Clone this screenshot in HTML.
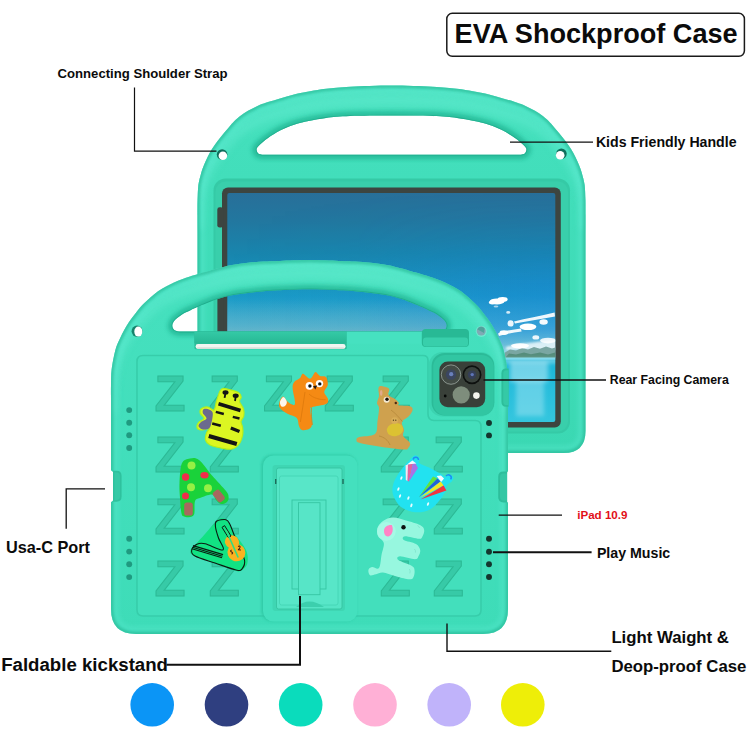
<!DOCTYPE html>
<html lang="en">
<head>
<meta charset="utf-8">
<title>EVA Shockproof Case</title>
<style>
  html, body { margin: 0; padding: 0; background: #ffffff; }
  body { width: 750px; height: 750px; overflow: hidden; position: relative; }
  svg { position: absolute; left: 0; top: 0; display: block; }
  text { font-family: "Liberation Sans", sans-serif; font-weight: bold; fill: #0b0b0b; }
  .z text { fill: #37caa7; stroke: #2cb995; stroke-width: 1; font-size: 50.8px; }
  .ln { stroke: #111; fill: none; }
</style>
</head>
<body>
<svg width="750" height="750" viewBox="0 0 750 750">
  <defs>
    <linearGradient id="sky" x1="0" y1="0" x2="0" y2="1">
      <stop offset="0" stop-color="#286f99"/>
      <stop offset="0.12" stop-color="#22779f"/>
      <stop offset="0.27" stop-color="#1886ae"/>
      <stop offset="0.45" stop-color="#1a9ac6"/>
      <stop offset="0.58" stop-color="#3fb0d4"/>
      <stop offset="0.66" stop-color="#70c3da"/>
      <stop offset="0.712" stop-color="#a9dce8"/>
      <stop offset="0.72" stop-color="#17b2d6"/>
      <stop offset="0.86" stop-color="#28bedc"/>
      <stop offset="1" stop-color="#34c6de"/>
    </linearGradient>
    <linearGradient id="skyx" x1="0" y1="0" x2="1" y2="0">
      <stop offset="0" stop-color="#1878e0" stop-opacity="0"/>
      <stop offset="0.4" stop-color="#1878e0" stop-opacity="0.04"/>
      <stop offset="0.8" stop-color="#1878e0" stop-opacity="0.26"/>
      <stop offset="1" stop-color="#1878e0" stop-opacity="0.3"/>
    </linearGradient>
    <linearGradient id="skyfade" x1="0" y1="0" x2="0" y2="1">
      <stop offset="0" stop-color="#fff" stop-opacity="0"/>
      <stop offset="0.2" stop-color="#fff" stop-opacity="0.25"/>
      <stop offset="0.4" stop-color="#fff" stop-opacity="1"/>
      <stop offset="0.6" stop-color="#fff" stop-opacity="1"/>
      <stop offset="0.7" stop-color="#fff" stop-opacity="0"/>
    </linearGradient>
    <mask id="skymask"><rect x="227" y="193" width="330" height="229" fill="url(#skyfade)"/></mask>
    <linearGradient id="bodyB" x1="0" y1="0" x2="0" y2="1">
      <stop offset="0" stop-color="#4fe3c2"/>
      <stop offset="0.15" stop-color="#43dfbc"/>
      <stop offset="1" stop-color="#3bd8b3"/>
    </linearGradient>
    <linearGradient id="bodyF" x1="0" y1="0" x2="0" y2="1">
      <stop offset="0" stop-color="#55e6c6"/>
      <stop offset="0.12" stop-color="#45e0be"/>
      <stop offset="1" stop-color="#3edcb8"/>
    </linearGradient>
    <clipPath id="scr"><rect x="227.3" y="193" width="328" height="229" rx="2"/></clipPath>
    <path id="backBody" fill-rule="evenodd" clip-rule="evenodd" d="M197.5,215.0 C197.5,212.5 197.4,205.0 197.6,200.0 C197.8,195.0 197.8,189.5 198.4,185.0 C199.0,180.5 200.3,176.3 201.2,173.0 C202.1,169.7 202.9,167.7 204.0,165.0 C205.1,162.3 206.3,159.7 207.6,157.0 C208.9,154.3 210.3,151.7 212.0,149.0 C213.7,146.3 215.6,143.7 217.6,141.0 C219.6,138.3 221.9,135.6 224.0,133.0 C226.1,130.4 228.4,127.7 230.4,125.4 C232.4,123.1 233.7,121.4 236.0,119.4 C238.3,117.4 241.3,115.0 244.0,113.2 C246.7,111.4 249.3,110.2 252.0,108.8 C254.7,107.4 257.3,105.9 260.0,104.8 C262.7,103.7 264.7,103.1 268.0,102.0 C271.3,100.9 275.7,99.7 280.0,98.4 C284.3,97.1 289.0,95.6 294.0,94.4 C299.0,93.2 304.7,92.1 310.0,91.2 C315.3,90.3 319.3,89.5 326.0,88.8 C332.7,88.0 339.1,87.2 350.0,86.7 C360.9,86.2 377.7,85.5 391.5,85.5 C405.3,85.5 422.1,86.2 433.0,86.7 C443.9,87.2 450.3,88.0 457.0,88.8 C463.7,89.5 467.7,90.3 473.0,91.2 C478.3,92.1 484.0,93.2 489.0,94.4 C494.0,95.6 498.7,97.1 503.0,98.4 C507.3,99.7 511.7,100.9 515.0,102.0 C518.3,103.1 520.3,103.7 523.0,104.8 C525.7,105.9 528.3,107.4 531.0,108.8 C533.7,110.2 536.3,111.4 539.0,113.2 C541.7,115.0 544.7,117.4 547.0,119.4 C549.3,121.4 550.6,123.1 552.6,125.4 C554.6,127.7 556.9,130.4 559.0,133.0 C561.1,135.6 563.4,138.3 565.4,141.0 C567.4,143.7 569.3,146.3 571.0,149.0 C572.7,151.7 574.1,154.3 575.4,157.0 C576.7,159.7 577.9,162.3 579.0,165.0 C580.1,167.7 580.9,169.7 581.8,173.0 C582.7,176.3 584.0,180.5 584.6,185.0 C585.2,189.5 585.2,195.0 585.4,200.0 C585.5,205.0 585.5,212.5 585.5,215.0 L585.5,431 Q585.5,453 563.5,453 L219.5,453 Q197.5,453 197.5,431 Z M262.0,154.8 C261.3,154.5 258.9,154.2 258.0,153.2 C257.1,152.2 256.4,150.4 256.6,149.0 C256.9,147.6 257.6,146.8 259.5,145.0 C261.4,143.2 264.6,140.4 268.0,138.0 C271.4,135.6 275.7,132.8 280.0,130.6 C284.3,128.4 289.0,126.4 294.0,124.8 C299.0,123.2 304.7,121.9 310.0,120.8 C315.3,119.7 319.3,118.7 326.0,117.9 C332.7,117.1 339.1,116.4 350.0,116.0 C360.9,115.6 377.7,115.5 391.5,115.5 C405.3,115.5 422.1,115.6 433.0,116.0 C443.9,116.4 450.3,117.1 457.0,117.9 C463.7,118.7 467.7,119.7 473.0,120.8 C478.3,121.9 484.0,123.2 489.0,124.8 C494.0,126.4 498.7,128.4 503.0,130.6 C507.3,132.8 511.6,135.6 515.0,138.0 C518.4,140.4 521.6,143.2 523.5,145.0 C525.4,146.8 526.1,147.6 526.4,149.0 C526.6,150.4 525.9,152.2 525.0,153.2 C524.1,154.2 521.7,154.5 521.0,154.8 Z"/>
    <path id="frontBody" fill-rule="evenodd" clip-rule="evenodd" d="M111.0,400.0 C111.0,397.5 110.9,390.0 111.0,385.0 C111.1,380.0 110.9,375.8 111.6,370.0 C112.3,364.2 114.0,355.3 115.4,350.0 C116.8,344.7 118.7,341.3 120.2,338.0 C121.7,334.7 122.7,332.7 124.2,330.0 C125.7,327.3 127.2,324.7 129.0,322.0 C130.8,319.3 132.9,316.7 135.0,314.0 C137.1,311.3 138.9,308.7 141.4,306.0 C143.9,303.3 147.0,300.5 149.8,298.0 C152.6,295.5 155.3,293.1 158.0,291.2 C160.7,289.3 163.3,287.9 166.0,286.4 C168.7,284.9 171.3,283.6 174.0,282.4 C176.7,281.2 179.3,280.2 182.0,279.2 C184.7,278.2 187.3,277.3 190.0,276.4 C192.7,275.5 195.0,274.9 198.0,274.0 C201.0,273.1 205.0,272.2 208.0,271.3 C211.0,270.4 212.0,269.9 216.0,268.8 C220.0,267.8 226.7,266.0 232.0,265.0 C237.3,264.0 242.7,263.4 248.0,262.8 C253.3,262.2 258.7,261.8 264.0,261.5 C269.3,261.2 272.4,261.1 280.0,260.9 C287.6,260.7 299.7,260.1 309.5,260.1 C319.3,260.1 331.4,260.7 339.0,260.9 C346.6,261.1 349.7,261.2 355.0,261.5 C360.3,261.8 365.7,262.2 371.0,262.8 C376.3,263.4 381.7,264.0 387.0,265.0 C392.3,266.0 399.0,267.8 403.0,268.8 C407.0,269.9 408.0,270.4 411.0,271.3 C414.0,272.2 418.0,273.1 421.0,274.0 C424.0,274.9 426.3,275.5 429.0,276.4 C431.7,277.3 434.3,278.2 437.0,279.2 C439.7,280.2 442.3,281.2 445.0,282.4 C447.7,283.6 450.3,284.9 453.0,286.4 C455.7,287.9 458.3,289.3 461.0,291.2 C463.7,293.1 466.4,295.5 469.2,298.0 C472.0,300.5 475.1,303.3 477.6,306.0 C480.1,308.7 481.9,311.3 484.0,314.0 C486.1,316.7 488.2,319.3 490.0,322.0 C491.8,324.7 493.3,327.3 494.8,330.0 C496.3,332.7 497.3,334.7 498.8,338.0 C500.3,341.3 502.2,344.7 503.6,350.0 C505.0,355.3 506.7,364.2 507.4,370.0 C508.1,375.8 507.9,380.0 508.0,385.0 C508.1,390.0 508.0,397.5 508.0,400.0 L508,609 Q508,634 483,634 L136,634 Q111,634 111,609 Z M180.0,331.6 C179.1,331.4 175.8,331.2 174.5,330.2 C173.2,329.2 172.3,327.4 172.3,325.8 C172.3,324.2 172.9,322.4 174.5,320.5 C176.1,318.6 179.4,316.1 182.0,314.4 C184.6,312.7 187.3,311.7 190.0,310.4 C192.7,309.1 193.7,308.6 198.0,306.8 C202.3,305.0 210.3,301.5 216.0,299.6 C221.7,297.7 226.7,296.4 232.0,295.3 C237.3,294.2 242.7,293.6 248.0,292.9 C253.3,292.2 258.7,291.7 264.0,291.3 C269.3,290.9 272.4,290.6 280.0,290.3 C287.6,290.0 299.7,289.3 309.5,289.3 C319.3,289.3 331.4,290.0 339.0,290.3 C346.6,290.6 349.7,290.9 355.0,291.3 C360.3,291.7 365.7,292.2 371.0,292.9 C376.3,293.6 381.7,294.2 387.0,295.3 C392.3,296.4 397.3,297.7 403.0,299.6 C408.7,301.5 416.7,305.0 421.0,306.8 C425.3,308.6 426.3,309.1 429.0,310.4 C431.7,311.7 434.4,312.7 437.0,314.4 C439.6,316.1 442.9,318.6 444.5,320.5 C446.1,322.4 446.7,324.2 446.7,325.8 C446.7,327.4 445.8,329.2 444.5,330.2 C443.2,331.2 439.9,331.4 439.0,331.6 Z"/>
    <clipPath id="clipBack"><use href="#backBody"/></clipPath>
    <clipPath id="clipFront"><use href="#frontBody"/></clipPath>
    <filter id="b2" x="-20%" y="-20%" width="140%" height="140%"><feGaussianBlur stdDeviation="2"/></filter>
    <filter id="b3" x="-20%" y="-20%" width="140%" height="140%"><feGaussianBlur stdDeviation="3.5"/></filter>
    <filter id="b1" x="-20%" y="-20%" width="140%" height="140%"><feGaussianBlur stdDeviation="1"/></filter>
    <linearGradient id="slotg" x1="0" y1="0" x2="0" y2="1">
      <stop offset="0" stop-color="#34caa6"/>
      <stop offset="1" stop-color="#27b894"/>
    </linearGradient>
    <linearGradient id="haze" x1="0" y1="0" x2="0" y2="1">
      <stop offset="0" stop-color="#7fb4bc" stop-opacity="0"/>
      <stop offset="0.6" stop-color="#7fb4bc" stop-opacity="0.45"/>
      <stop offset="1" stop-color="#8fbcc2" stop-opacity="0.55"/>
    </linearGradient>
  </defs>

  <!-- ===================== BACK CASE ===================== -->
  <g id="back">
    <use href="#backBody" fill="url(#bodyB)"/>
    <g clip-path="url(#clipBack)" id="backShade">
      <path d="M197.5,215.0 C197.5,212.5 197.4,205.0 197.6,200.0 C197.8,195.0 197.8,189.5 198.4,185.0 C199.0,180.5 200.3,176.3 201.2,173.0 C202.1,169.7 202.9,167.7 204.0,165.0 C205.1,162.3 206.3,159.7 207.6,157.0 C208.9,154.3 210.3,151.7 212.0,149.0 C213.7,146.3 215.6,143.7 217.6,141.0 C219.6,138.3 221.9,135.6 224.0,133.0 C226.1,130.4 228.4,127.7 230.4,125.4 C232.4,123.1 233.7,121.4 236.0,119.4 C238.3,117.4 241.3,115.0 244.0,113.2 C246.7,111.4 249.3,110.2 252.0,108.8 C254.7,107.4 257.3,105.9 260.0,104.8 C262.7,103.7 264.7,103.1 268.0,102.0 C271.3,100.9 275.7,99.7 280.0,98.4 C284.3,97.1 289.0,95.6 294.0,94.4 C299.0,93.2 304.7,92.1 310.0,91.2 C315.3,90.3 319.3,89.5 326.0,88.8 C332.7,88.0 339.1,87.2 350.0,86.7 C360.9,86.2 377.7,85.5 391.5,85.5 C405.3,85.5 422.1,86.2 433.0,86.7 C443.9,87.2 450.3,88.0 457.0,88.8 C463.7,89.5 467.7,90.3 473.0,91.2 C478.3,92.1 484.0,93.2 489.0,94.4 C494.0,95.6 498.7,97.1 503.0,98.4 C507.3,99.7 511.7,100.9 515.0,102.0 C518.3,103.1 520.3,103.7 523.0,104.8 C525.7,105.9 528.3,107.4 531.0,108.8 C533.7,110.2 536.3,111.4 539.0,113.2 C541.7,115.0 544.7,117.4 547.0,119.4 C549.3,121.4 550.6,123.1 552.6,125.4 C554.6,127.7 556.9,130.4 559.0,133.0 C561.1,135.6 563.4,138.3 565.4,141.0 C567.4,143.7 569.3,146.3 571.0,149.0 C572.7,151.7 574.1,154.3 575.4,157.0 C576.7,159.7 577.9,162.3 579.0,165.0 C580.1,167.7 580.9,169.7 581.8,173.0 C582.7,176.3 584.0,180.5 584.6,185.0 C585.2,189.5 585.2,195.0 585.4,200.0 C585.5,205.0 585.5,212.5 585.5,215.0" transform="translate(0 14)" fill="none" stroke="#5ce9cc" stroke-width="11" opacity="0.6" filter="url(#b3)"/>
      <path d="M262.0,154.8 C261.3,154.5 258.9,154.2 258.0,153.2 C257.1,152.2 256.4,150.4 256.6,149.0 C256.9,147.6 257.6,146.8 259.5,145.0 C261.4,143.2 264.6,140.4 268.0,138.0 C271.4,135.6 275.7,132.8 280.0,130.6 C284.3,128.4 289.0,126.4 294.0,124.8 C299.0,123.2 304.7,121.9 310.0,120.8 C315.3,119.7 319.3,118.7 326.0,117.9 C332.7,117.1 339.1,116.4 350.0,116.0 C360.9,115.6 377.7,115.5 391.5,115.5 C405.3,115.5 422.1,115.6 433.0,116.0 C443.9,116.4 450.3,117.1 457.0,117.9 C463.7,118.7 467.7,119.7 473.0,120.8 C478.3,121.9 484.0,123.2 489.0,124.8 C494.0,126.4 498.7,128.4 503.0,130.6 C507.3,132.8 511.6,135.6 515.0,138.0 C518.4,140.4 521.6,143.2 523.5,145.0 C525.4,146.8 526.1,147.6 526.4,149.0 C526.6,150.4 525.9,152.2 525.0,153.2 C524.1,154.2 521.7,154.5 521.0,154.8 Z" fill="none" stroke="#18a886" stroke-width="9" opacity="0.6" filter="url(#b2)"/>
      <path d="M262.0,154.8 C261.3,154.5 258.9,154.2 258.0,153.2 C257.1,152.2 256.4,150.4 256.6,149.0 C256.9,147.6 257.6,146.8 259.5,145.0 C261.4,143.2 264.6,140.4 268.0,138.0 C271.4,135.6 275.7,132.8 280.0,130.6 C284.3,128.4 289.0,126.4 294.0,124.8 C299.0,123.2 304.7,121.9 310.0,120.8 C315.3,119.7 319.3,118.7 326.0,117.9 C332.7,117.1 339.1,116.4 350.0,116.0 C360.9,115.6 377.7,115.5 391.5,115.5 C405.3,115.5 422.1,115.6 433.0,116.0 C443.9,116.4 450.3,117.1 457.0,117.9 C463.7,118.7 467.7,119.7 473.0,120.8 C478.3,121.9 484.0,123.2 489.0,124.8 C494.0,126.4 498.7,128.4 503.0,130.6 C507.3,132.8 511.6,135.6 515.0,138.0 C518.4,140.4 521.6,143.2 523.5,145.0 C525.4,146.8 526.1,147.6 526.4,149.0 C526.6,150.4 525.9,152.2 525.0,153.2 C524.1,154.2 521.7,154.5 521.0,154.8 Z" fill="none" stroke="#1a9c7d" stroke-width="1.6" opacity="0.55"/>
      <path d="M197.5,215.0 C197.5,212.5 197.4,205.0 197.6,200.0 C197.8,195.0 197.8,189.5 198.4,185.0 C199.0,180.5 200.3,176.3 201.2,173.0 C202.1,169.7 202.9,167.7 204.0,165.0 C205.1,162.3 206.3,159.7 207.6,157.0 C208.9,154.3 210.3,151.7 212.0,149.0 C213.7,146.3 215.6,143.7 217.6,141.0 C219.6,138.3 221.9,135.6 224.0,133.0 C226.1,130.4 228.4,127.7 230.4,125.4 C232.4,123.1 233.7,121.4 236.0,119.4 C238.3,117.4 241.3,115.0 244.0,113.2 C246.7,111.4 249.3,110.2 252.0,108.8 C254.7,107.4 257.3,105.9 260.0,104.8 C262.7,103.7 264.7,103.1 268.0,102.0 C271.3,100.9 275.7,99.7 280.0,98.4 C284.3,97.1 289.0,95.6 294.0,94.4 C299.0,93.2 304.7,92.1 310.0,91.2 C315.3,90.3 319.3,89.5 326.0,88.8 C332.7,88.0 339.1,87.2 350.0,86.7 C360.9,86.2 377.7,85.5 391.5,85.5 C405.3,85.5 422.1,86.2 433.0,86.7 C443.9,87.2 450.3,88.0 457.0,88.8 C463.7,89.5 467.7,90.3 473.0,91.2 C478.3,92.1 484.0,93.2 489.0,94.4 C494.0,95.6 498.7,97.1 503.0,98.4 C507.3,99.7 511.7,100.9 515.0,102.0 C518.3,103.1 520.3,103.7 523.0,104.8 C525.7,105.9 528.3,107.4 531.0,108.8 C533.7,110.2 536.3,111.4 539.0,113.2 C541.7,115.0 544.7,117.4 547.0,119.4 C549.3,121.4 550.6,123.1 552.6,125.4 C554.6,127.7 556.9,130.4 559.0,133.0 C561.1,135.6 563.4,138.3 565.4,141.0 C567.4,143.7 569.3,146.3 571.0,149.0 C572.7,151.7 574.1,154.3 575.4,157.0 C576.7,159.7 577.9,162.3 579.0,165.0 C580.1,167.7 580.9,169.7 581.8,173.0 C582.7,176.3 584.0,180.5 584.6,185.0 C585.2,189.5 585.2,195.0 585.4,200.0 C585.5,205.0 585.5,212.5 585.5,215.0 L585.5,431 Q585.5,453 563.5,453 L219.5,453 Q197.5,453 197.5,431 Z" fill="none" stroke="#5cead0" stroke-width="16" opacity="0.35" filter="url(#b2)"/>
      <path d="M197.5,215.0 C197.5,212.5 197.4,205.0 197.6,200.0 C197.8,195.0 197.8,189.5 198.4,185.0 C199.0,180.5 200.3,176.3 201.2,173.0 C202.1,169.7 202.9,167.7 204.0,165.0 C205.1,162.3 206.3,159.7 207.6,157.0 C208.9,154.3 210.3,151.7 212.0,149.0 C213.7,146.3 215.6,143.7 217.6,141.0 C219.6,138.3 221.9,135.6 224.0,133.0 C226.1,130.4 228.4,127.7 230.4,125.4 C232.4,123.1 233.7,121.4 236.0,119.4 C238.3,117.4 241.3,115.0 244.0,113.2 C246.7,111.4 249.3,110.2 252.0,108.8 C254.7,107.4 257.3,105.9 260.0,104.8 C262.7,103.7 264.7,103.1 268.0,102.0 C271.3,100.9 275.7,99.7 280.0,98.4 C284.3,97.1 289.0,95.6 294.0,94.4 C299.0,93.2 304.7,92.1 310.0,91.2 C315.3,90.3 319.3,89.5 326.0,88.8 C332.7,88.0 339.1,87.2 350.0,86.7 C360.9,86.2 377.7,85.5 391.5,85.5 C405.3,85.5 422.1,86.2 433.0,86.7 C443.9,87.2 450.3,88.0 457.0,88.8 C463.7,89.5 467.7,90.3 473.0,91.2 C478.3,92.1 484.0,93.2 489.0,94.4 C494.0,95.6 498.7,97.1 503.0,98.4 C507.3,99.7 511.7,100.9 515.0,102.0 C518.3,103.1 520.3,103.7 523.0,104.8 C525.7,105.9 528.3,107.4 531.0,108.8 C533.7,110.2 536.3,111.4 539.0,113.2 C541.7,115.0 544.7,117.4 547.0,119.4 C549.3,121.4 550.6,123.1 552.6,125.4 C554.6,127.7 556.9,130.4 559.0,133.0 C561.1,135.6 563.4,138.3 565.4,141.0 C567.4,143.7 569.3,146.3 571.0,149.0 C572.7,151.7 574.1,154.3 575.4,157.0 C576.7,159.7 577.9,162.3 579.0,165.0 C580.1,167.7 580.9,169.7 581.8,173.0 C582.7,176.3 584.0,180.5 584.6,185.0 C585.2,189.5 585.2,195.0 585.4,200.0 C585.5,205.0 585.5,212.5 585.5,215.0 L585.5,431 Q585.5,453 563.5,453 L219.5,453 Q197.5,453 197.5,431 Z" fill="none" stroke="#20b28e" stroke-width="5" opacity="0.55" filter="url(#b1)"/>
    </g>
    <!-- inner recess -->
    <rect x="213.5" y="178.5" width="356.5" height="255" rx="12" fill="#35caa6"/>
    <rect x="215.5" y="181.5" width="352.5" height="250" rx="10" fill="#39cfab"/>
    <!-- bezel + screen -->
    <rect x="222" y="187.6" width="338.8" height="239.8" rx="6" fill="#3d4540"/>
    <rect x="227.3" y="193" width="328" height="229" rx="2" fill="url(#sky)"/>
    <rect x="227.3" y="193" width="328" height="229" rx="2" fill="url(#skyx)" mask="url(#skymask)"/>
    <g clip-path="url(#scr)">
      <!-- left haze -->
      <rect x="227" y="300" width="230" height="57" fill="url(#haze)"/>
      <!-- far cloud band -->
      <path d="M506,347 C518,343.5 536,342.5 557,339 L557,350 L506,350 Z" fill="#eef8fb" opacity="0.85" filter="url(#b1)"/>
      <!-- mountains -->
      <path d="M503,358 L505,352.5 L510,349.5 L516,350.6 L522,348 L528,349.4 L534,347 L540,348.8 L546,346.6 L552,348.4 L557,347 L557,358 Z" fill="#7aa6a2"/>
      <path d="M505,358 L509,353.6 L516,354.4 L524,352.4 L531,354.2 L540,352.6 L548,354.6 L557,352 L557,358 Z" fill="#4f8874" opacity="0.85"/>
      <path d="M227,358 L227,355.6 L330,355 L420,356 L503,356.6 L503,358 Z" fill="#8cc8da" opacity="0.8"/>
      <rect x="227" y="357.4" width="330" height="2.2" fill="#7fdaee" opacity="0.8"/>
      <!-- water reflections -->
      <g fill="#e4fafe" filter="url(#b2)">
        <rect x="503" y="359.5" width="56" height="3" opacity="0.6"/>
        <rect x="510" y="362" width="38" height="20" opacity="0.42"/>
        <rect x="516" y="380" width="28" height="36" opacity="0.3"/>
      </g>
      <!-- clouds -->
      <g fill="#ffffff">
        <ellipse cx="497" cy="301.4" rx="7.4" ry="3"/>
        <ellipse cx="502.6" cy="299.4" rx="5" ry="2.4"/>
        <ellipse cx="492.4" cy="302.6" rx="3.6" ry="1.8"/>
        <ellipse cx="496" cy="306.6" rx="2.4" ry="1" opacity="0.6"/>
        <ellipse cx="508.2" cy="312.4" rx="2" ry="1.3" opacity="0.8"/>
        <path d="M514,321.6 C526,318.6 540,316 554.6,312.6 L555,316.4 C542,318.6 528,321 515,323.6 Z" opacity="0.92"/>
        <ellipse cx="510.6" cy="323.4" rx="3" ry="3.2" opacity="0.9"/>
        <ellipse cx="528" cy="326.8" rx="8.4" ry="3.3"/>
        <ellipse cx="543.6" cy="322" rx="4.2" ry="2.8" opacity="0.95"/>
        <path d="M498,333.4 C505,330.6 513,329.4 521,328.4 L521.6,331.4 C513,332.6 506,334 499,336 Z" opacity="0.92"/>
        <ellipse cx="504" cy="332.6" rx="4.4" ry="2.4"/>
        <ellipse cx="535.8" cy="337.4" rx="3.4" ry="2.2" opacity="0.9"/>
        <ellipse cx="520" cy="345.8" rx="9" ry="2.6" opacity="0.95"/>
        <ellipse cx="548" cy="340.6" rx="8" ry="2.8" opacity="0.85"/>
      </g>
    </g>
    <!-- side button on bezel -->
    <rect x="217.3" y="207.3" width="6" height="20.3" rx="2.4" fill="#3d4540"/>
    <rect x="217.4" y="284" width="6" height="62" rx="2.4" fill="#3d4540"/>
    <!-- strap holes -->
    <circle cx="222.1" cy="154.5" r="5.3" fill="#0e6f5c"/>
    <circle cx="222.9" cy="155.7" r="4.3" fill="#ffffff"/>
    <circle cx="561.4" cy="153.8" r="5.3" fill="#0e6f5c"/>
    <circle cx="560.2" cy="155.2" r="4.3" fill="#ffffff"/>
  </g>

  <!-- ===================== FRONT CASE ===================== -->
  <g id="front">
    <use href="#frontBody" fill="url(#bodyF)"/>
    <g clip-path="url(#clipFront)" id="frontShade">
      <path d="M111.0,400.0 C111.0,397.5 110.9,390.0 111.0,385.0 C111.1,380.0 110.9,375.8 111.6,370.0 C112.3,364.2 114.0,355.3 115.4,350.0 C116.8,344.7 118.7,341.3 120.2,338.0 C121.7,334.7 122.7,332.7 124.2,330.0 C125.7,327.3 127.2,324.7 129.0,322.0 C130.8,319.3 132.9,316.7 135.0,314.0 C137.1,311.3 138.9,308.7 141.4,306.0 C143.9,303.3 147.0,300.5 149.8,298.0 C152.6,295.5 155.3,293.1 158.0,291.2 C160.7,289.3 163.3,287.9 166.0,286.4 C168.7,284.9 171.3,283.6 174.0,282.4 C176.7,281.2 179.3,280.2 182.0,279.2 C184.7,278.2 187.3,277.3 190.0,276.4 C192.7,275.5 195.0,274.9 198.0,274.0 C201.0,273.1 205.0,272.2 208.0,271.3 C211.0,270.4 212.0,269.9 216.0,268.8 C220.0,267.8 226.7,266.0 232.0,265.0 C237.3,264.0 242.7,263.4 248.0,262.8 C253.3,262.2 258.7,261.8 264.0,261.5 C269.3,261.2 272.4,261.1 280.0,260.9 C287.6,260.7 299.7,260.1 309.5,260.1 C319.3,260.1 331.4,260.7 339.0,260.9 C346.6,261.1 349.7,261.2 355.0,261.5 C360.3,261.8 365.7,262.2 371.0,262.8 C376.3,263.4 381.7,264.0 387.0,265.0 C392.3,266.0 399.0,267.8 403.0,268.8 C407.0,269.9 408.0,270.4 411.0,271.3 C414.0,272.2 418.0,273.1 421.0,274.0 C424.0,274.9 426.3,275.5 429.0,276.4 C431.7,277.3 434.3,278.2 437.0,279.2 C439.7,280.2 442.3,281.2 445.0,282.4 C447.7,283.6 450.3,284.9 453.0,286.4 C455.7,287.9 458.3,289.3 461.0,291.2 C463.7,293.1 466.4,295.5 469.2,298.0 C472.0,300.5 475.1,303.3 477.6,306.0 C480.1,308.7 481.9,311.3 484.0,314.0 C486.1,316.7 488.2,319.3 490.0,322.0 C491.8,324.7 493.3,327.3 494.8,330.0 C496.3,332.7 497.3,334.7 498.8,338.0 C500.3,341.3 502.2,344.7 503.6,350.0 C505.0,355.3 506.7,364.2 507.4,370.0 C508.1,375.8 507.9,380.0 508.0,385.0 C508.1,390.0 508.0,397.5 508.0,400.0" transform="translate(0 13)" fill="none" stroke="#5ce9cc" stroke-width="10" opacity="0.6" filter="url(#b3)"/>
      <path d="M180.0,331.6 C179.1,331.4 175.8,331.2 174.5,330.2 C173.2,329.2 172.3,327.4 172.3,325.8 C172.3,324.2 172.9,322.4 174.5,320.5 C176.1,318.6 179.4,316.1 182.0,314.4 C184.6,312.7 187.3,311.7 190.0,310.4 C192.7,309.1 193.7,308.6 198.0,306.8 C202.3,305.0 210.3,301.5 216.0,299.6 C221.7,297.7 226.7,296.4 232.0,295.3 C237.3,294.2 242.7,293.6 248.0,292.9 C253.3,292.2 258.7,291.7 264.0,291.3 C269.3,290.9 272.4,290.6 280.0,290.3 C287.6,290.0 299.7,289.3 309.5,289.3 C319.3,289.3 331.4,290.0 339.0,290.3 C346.6,290.6 349.7,290.9 355.0,291.3 C360.3,291.7 365.7,292.2 371.0,292.9 C376.3,293.6 381.7,294.2 387.0,295.3 C392.3,296.4 397.3,297.7 403.0,299.6 C408.7,301.5 416.7,305.0 421.0,306.8 C425.3,308.6 426.3,309.1 429.0,310.4 C431.7,311.7 434.4,312.7 437.0,314.4 C439.6,316.1 442.9,318.6 444.5,320.5 C446.1,322.4 446.7,324.2 446.7,325.8 C446.7,327.4 445.8,329.2 444.5,330.2 C443.2,331.2 439.9,331.4 439.0,331.6 Z" fill="none" stroke="#18a886" stroke-width="9" opacity="0.6" filter="url(#b2)"/>
      <path d="M180.0,331.6 C179.1,331.4 175.8,331.2 174.5,330.2 C173.2,329.2 172.3,327.4 172.3,325.8 C172.3,324.2 172.9,322.4 174.5,320.5 C176.1,318.6 179.4,316.1 182.0,314.4 C184.6,312.7 187.3,311.7 190.0,310.4 C192.7,309.1 193.7,308.6 198.0,306.8 C202.3,305.0 210.3,301.5 216.0,299.6 C221.7,297.7 226.7,296.4 232.0,295.3 C237.3,294.2 242.7,293.6 248.0,292.9 C253.3,292.2 258.7,291.7 264.0,291.3 C269.3,290.9 272.4,290.6 280.0,290.3 C287.6,290.0 299.7,289.3 309.5,289.3 C319.3,289.3 331.4,290.0 339.0,290.3 C346.6,290.6 349.7,290.9 355.0,291.3 C360.3,291.7 365.7,292.2 371.0,292.9 C376.3,293.6 381.7,294.2 387.0,295.3 C392.3,296.4 397.3,297.7 403.0,299.6 C408.7,301.5 416.7,305.0 421.0,306.8 C425.3,308.6 426.3,309.1 429.0,310.4 C431.7,311.7 434.4,312.7 437.0,314.4 C439.6,316.1 442.9,318.6 444.5,320.5 C446.1,322.4 446.7,324.2 446.7,325.8 C446.7,327.4 445.8,329.2 444.5,330.2 C443.2,331.2 439.9,331.4 439.0,331.6 Z" fill="none" stroke="#1a9c7d" stroke-width="1.6" opacity="0.55"/>
      <path d="M111.0,400.0 C111.0,397.5 110.9,390.0 111.0,385.0 C111.1,380.0 110.9,375.8 111.6,370.0 C112.3,364.2 114.0,355.3 115.4,350.0 C116.8,344.7 118.7,341.3 120.2,338.0 C121.7,334.7 122.7,332.7 124.2,330.0 C125.7,327.3 127.2,324.7 129.0,322.0 C130.8,319.3 132.9,316.7 135.0,314.0 C137.1,311.3 138.9,308.7 141.4,306.0 C143.9,303.3 147.0,300.5 149.8,298.0 C152.6,295.5 155.3,293.1 158.0,291.2 C160.7,289.3 163.3,287.9 166.0,286.4 C168.7,284.9 171.3,283.6 174.0,282.4 C176.7,281.2 179.3,280.2 182.0,279.2 C184.7,278.2 187.3,277.3 190.0,276.4 C192.7,275.5 195.0,274.9 198.0,274.0 C201.0,273.1 205.0,272.2 208.0,271.3 C211.0,270.4 212.0,269.9 216.0,268.8 C220.0,267.8 226.7,266.0 232.0,265.0 C237.3,264.0 242.7,263.4 248.0,262.8 C253.3,262.2 258.7,261.8 264.0,261.5 C269.3,261.2 272.4,261.1 280.0,260.9 C287.6,260.7 299.7,260.1 309.5,260.1 C319.3,260.1 331.4,260.7 339.0,260.9 C346.6,261.1 349.7,261.2 355.0,261.5 C360.3,261.8 365.7,262.2 371.0,262.8 C376.3,263.4 381.7,264.0 387.0,265.0 C392.3,266.0 399.0,267.8 403.0,268.8 C407.0,269.9 408.0,270.4 411.0,271.3 C414.0,272.2 418.0,273.1 421.0,274.0 C424.0,274.9 426.3,275.5 429.0,276.4 C431.7,277.3 434.3,278.2 437.0,279.2 C439.7,280.2 442.3,281.2 445.0,282.4 C447.7,283.6 450.3,284.9 453.0,286.4 C455.7,287.9 458.3,289.3 461.0,291.2 C463.7,293.1 466.4,295.5 469.2,298.0 C472.0,300.5 475.1,303.3 477.6,306.0 C480.1,308.7 481.9,311.3 484.0,314.0 C486.1,316.7 488.2,319.3 490.0,322.0 C491.8,324.7 493.3,327.3 494.8,330.0 C496.3,332.7 497.3,334.7 498.8,338.0 C500.3,341.3 502.2,344.7 503.6,350.0 C505.0,355.3 506.7,364.2 507.4,370.0 C508.1,375.8 507.9,380.0 508.0,385.0 C508.1,390.0 508.0,397.5 508.0,400.0 L508,609 Q508,634 483,634 L136,634 Q111,634 111,609 Z" fill="none" stroke="#5cead0" stroke-width="16" opacity="0.35" filter="url(#b2)"/>
      <path d="M111.0,400.0 C111.0,397.5 110.9,390.0 111.0,385.0 C111.1,380.0 110.9,375.8 111.6,370.0 C112.3,364.2 114.0,355.3 115.4,350.0 C116.8,344.7 118.7,341.3 120.2,338.0 C121.7,334.7 122.7,332.7 124.2,330.0 C125.7,327.3 127.2,324.7 129.0,322.0 C130.8,319.3 132.9,316.7 135.0,314.0 C137.1,311.3 138.9,308.7 141.4,306.0 C143.9,303.3 147.0,300.5 149.8,298.0 C152.6,295.5 155.3,293.1 158.0,291.2 C160.7,289.3 163.3,287.9 166.0,286.4 C168.7,284.9 171.3,283.6 174.0,282.4 C176.7,281.2 179.3,280.2 182.0,279.2 C184.7,278.2 187.3,277.3 190.0,276.4 C192.7,275.5 195.0,274.9 198.0,274.0 C201.0,273.1 205.0,272.2 208.0,271.3 C211.0,270.4 212.0,269.9 216.0,268.8 C220.0,267.8 226.7,266.0 232.0,265.0 C237.3,264.0 242.7,263.4 248.0,262.8 C253.3,262.2 258.7,261.8 264.0,261.5 C269.3,261.2 272.4,261.1 280.0,260.9 C287.6,260.7 299.7,260.1 309.5,260.1 C319.3,260.1 331.4,260.7 339.0,260.9 C346.6,261.1 349.7,261.2 355.0,261.5 C360.3,261.8 365.7,262.2 371.0,262.8 C376.3,263.4 381.7,264.0 387.0,265.0 C392.3,266.0 399.0,267.8 403.0,268.8 C407.0,269.9 408.0,270.4 411.0,271.3 C414.0,272.2 418.0,273.1 421.0,274.0 C424.0,274.9 426.3,275.5 429.0,276.4 C431.7,277.3 434.3,278.2 437.0,279.2 C439.7,280.2 442.3,281.2 445.0,282.4 C447.7,283.6 450.3,284.9 453.0,286.4 C455.7,287.9 458.3,289.3 461.0,291.2 C463.7,293.1 466.4,295.5 469.2,298.0 C472.0,300.5 475.1,303.3 477.6,306.0 C480.1,308.7 481.9,311.3 484.0,314.0 C486.1,316.7 488.2,319.3 490.0,322.0 C491.8,324.7 493.3,327.3 494.8,330.0 C496.3,332.7 497.3,334.7 498.8,338.0 C500.3,341.3 502.2,344.7 503.6,350.0 C505.0,355.3 506.7,364.2 507.4,370.0 C508.1,375.8 507.9,380.0 508.0,385.0 C508.1,390.0 508.0,397.5 508.0,400.0 L508,609 Q508,634 483,634 L136,634 Q111,634 111,609 Z" fill="none" stroke="#20b28e" stroke-width="5" opacity="0.55" filter="url(#b1)"/>
    </g>

    <!-- pencil slot -->
    <rect x="194.4" y="331.7" width="152.4" height="17.6" rx="1.5" fill="#2bbd99"/>
    <rect x="194.4" y="331.7" width="152.4" height="11.6" fill="url(#slotg)"/>
    <rect x="195.6" y="344" width="150" height="5" rx="2.4" fill="#f1f5f1"/>
    <rect x="197" y="347.4" width="147" height="1.4" rx="0.7" fill="#cfd8d2"/>
    <rect x="346.8" y="331.7" width="76" height="12" fill="#46e1c0"/>
    <!-- pencil cap slot (right) -->
    <rect x="421.8" y="329" width="47.2" height="18" rx="4" fill="#28b995"/>
    <rect x="423" y="337.4" width="45" height="9.2" rx="3" fill="#38cfab"/>
    <!-- front strap holes -->
    <ellipse cx="137" cy="331.2" rx="5.4" ry="5.6" fill="#15846c"/>
    <ellipse cx="138.3" cy="331.6" rx="4" ry="5" fill="#ffffff"/>
    <circle cx="481.4" cy="331.3" r="5.6" fill="#6fe8cf"/>
    <circle cx="481.2" cy="331.1" r="4.5" fill="#7fa9b4"/>
    <path d="M477.2,329.2 A4.5,4.5 0 0 1 484.6,328.2 L484,333 Z" fill="#2a9d86" opacity="0.55"/>
    <!-- inner panel -->
    <path d="M143,355.5 L423,355.5 Q428,355.5 428,360.5 L428,414 Q428,420.5 434,420.5 L475,420.5 Q481,420.5 481,426.5 L481,610 Q481,616 475,616 L143,616 Q137,616 137,610 L137,361.5 Q137,355.5 143,355.5 Z"
          fill="#43dfbc" stroke="#37cdaa" stroke-width="1.6"/>
    <!-- embossed Z pattern -->
    <g class="z">
      <text x="154.5" y="410.6">Z</text>
      <text x="208.8" y="410.6">Z</text>
      <text x="263.1" y="410.6">Z</text>
      <text x="323.8" y="410.6">Z</text>
      <text x="379.8" y="410.6">Z</text>
      <text x="154.5" y="472.3">Z</text>
      <text x="208.8" y="472.3">Z</text>
      <text x="379.8" y="472.3">Z</text>
      <text x="432.8" y="472.3">Z</text>
      <text x="154.5" y="533.9">Z</text>
      <text x="208.8" y="533.9">Z</text>
      <text x="379.8" y="533.9">Z</text>
      <text x="432.8" y="533.9">Z</text>
      <text x="154.5" y="595.5">Z</text>
      <text x="208.8" y="595.5">Z</text>
      <text x="379.8" y="595.5">Z</text>
      <text x="432.8" y="595.5">Z</text>
    </g>
    <!-- speaker holes -->
    <g fill="#1f9a80">
      <circle cx="129.2" cy="410.1" r="2.95"/><circle cx="129.2" cy="422.7" r="2.95"/><circle cx="129.2" cy="435.3" r="2.95"/><circle cx="129.2" cy="448" r="2.95"/>
      <circle cx="129.2" cy="538.7" r="2.95"/><circle cx="129.2" cy="551.6" r="2.95"/><circle cx="129.2" cy="564.3" r="2.95"/><circle cx="129.2" cy="577.1" r="2.95"/>
    </g>
    <g fill="#14362e">
      <circle cx="489" cy="423" r="2.95"/><circle cx="489" cy="435.4" r="2.95"/>
      <circle cx="489" cy="538.7" r="2.95"/><circle cx="489" cy="551.8" r="2.95"/><circle cx="489" cy="564.3" r="2.95"/><circle cx="489" cy="577" r="2.95"/>
    </g>
    <!-- usb-c port notch (left) -->
    <path d="M112.8,470.8 L116.6,470.8 Q121.6,470.8 121.6,476 L121.6,496.6 Q121.6,501.8 116.6,501.8 L112.8,501.8 Z" fill="#2fc19e"/>
    <path d="M114.5,472.5 L116.4,472.5 Q120,472.5 120,476.4 L120,496.2 Q120,500 116.4,500 L114.5,500 Z" fill="#36c9a6"/>
    <path d="M110,469.4 L113,472 L113,500.6 L110,503 Z" fill="#ffffff"/>
    <!-- side button (right) -->
    <path d="M507.6,471.6 L503.4,471.6 Q498.2,471.6 498.2,477 L498.2,497 Q498.2,502.4 503.4,502.4 L507.6,502.4 Z" fill="#2dbe9b"/>
    <path d="M507.6,473.4 L503.6,473.4 Q500,473.4 500,477.4 L500,496.6 Q500,500.6 503.6,500.6 L507.6,500.6 Z" fill="#34c7a4"/>
    <path d="M508.6,470 L507.2,472.4 L507.2,501.6 L508.6,504 Z" fill="#ffffff"/>
    <path d="M508.6,368.4 L506,368.4 Q501.4,368.4 501.4,373.4 L501.4,401.8 Q501.4,406.8 506,406.8 L508.6,406.8 Z" fill="#2dbe9b"/>
    <path d="M508.6,370.2 L506.4,370.2 Q503.2,370.2 503.2,373.8 L503.2,401.4 Q503.2,405 506.4,405 L508.6,405 Z" fill="#35c9a6"/>
    <!-- camera recess + module -->
    <rect x="428.6" y="352" width="66" height="64.6" rx="14" fill="#3bd3b0"/>
    <rect x="431.6" y="353" width="62.6" height="62.6" rx="13" fill="#2bbb98"/>
    <rect x="433.2" y="355" width="60.6" height="60.2" rx="12" fill="#31c6a2"/>
    <rect x="439.4" y="361.4" width="45.8" height="45.8" rx="8.5" fill="#394039"/>
    <circle cx="451" cy="374.6" r="9.7" fill="#434b45" stroke="#a9b5ad" stroke-width="0.7"/>
    <circle cx="451" cy="374.6" r="5.2" fill="#3b4660"/>
    <circle cx="451.2" cy="374.2" r="2.1" fill="#6a80bc"/>
    <circle cx="472" cy="374.8" r="9.5" fill="#0d100e"/>
    <circle cx="472" cy="374.8" r="7.8" fill="#3a423d"/>
    <circle cx="472" cy="374.8" r="4.2" fill="#353f58"/>
    <circle cx="472.2" cy="374.6" r="1.7" fill="#5f76b8"/>
    <circle cx="461.2" cy="394.8" r="8.6" fill="#7e8d7c"/>
    <circle cx="476.4" cy="395.6" r="3.3" fill="#f5f5ee"/>
    <circle cx="445.2" cy="396" r="1.4" fill="#050806"/>
    <!-- kickstand -->
    <rect x="261" y="454.5" width="96" height="167" rx="11" fill="#2fc8a4" filter="url(#b1)" opacity="0.8"/>
    <rect x="263" y="455.5" width="94.5" height="166" rx="10.5" fill="#44e0be"/>
    <rect x="272.5" y="465" width="72.5" height="146" rx="3" fill="#3fd6b3"/>
    <rect x="276.5" y="468" width="65.5" height="141" rx="2" fill="#55e5c6" stroke="#35c4a2" stroke-width="0.9"/>
    <rect x="279.5" y="476" width="58.5" height="129" rx="2" fill="#58e6c8" stroke="#42d3b2" stroke-width="0.8"/>
    <rect x="292" y="500" width="34" height="89" fill="#55e4c5" stroke="#36c5a3" stroke-width="0.9"/>
    <rect x="298.5" y="502.7" width="21.5" height="92" fill="#57e5c7" stroke="#36c5a3" stroke-width="0.9"/>
    <path d="M296,607 Q309,596 324,607 Z" fill="#3ccfad"/>
    <rect x="275" y="479" width="1.4" height="5" fill="#1c6b5a"/>
    <rect x="342.3" y="479" width="1.4" height="5" fill="#1c6b5a"/>
    <!-- STICKERS START -->
    <!-- bee sticker -->
    <g id="bee">
      <path d="M220.0,391.0 C221.1,388.9 221.2,388.7 223.0,388.5 C224.8,388.3 228.3,389.2 231.0,390.0 C233.7,390.8 237.3,391.8 239.0,393.0 C240.7,394.2 241.1,395.8 241.2,397.2 C241.3,398.6 239.1,399.5 239.5,401.5 C239.9,403.5 242.8,406.6 243.5,409.0 C244.2,411.4 244.2,413.9 243.8,416.0 C243.4,418.1 241.2,419.7 241.0,421.5 C240.8,423.3 242.2,424.9 242.5,427.0 C242.8,429.1 243.3,431.2 242.8,434.0 C242.3,436.8 241.3,441.0 239.5,443.5 C237.7,446.0 235.1,448.2 232.0,449.0 C228.9,449.8 224.7,448.7 221.0,448.0 C217.3,447.3 212.6,446.3 210.0,445.0 C207.4,443.7 206.1,442.0 205.5,440.0 C204.9,438.0 205.9,434.9 206.5,433.0 C207.1,431.1 209.9,429.0 209.0,428.5 C208.1,428.0 203.0,430.2 201.0,430.0 C199.0,429.8 197.4,428.8 197.0,427.5 C196.6,426.2 197.3,424.0 198.5,422.5 C199.7,421.0 203.7,420.1 204.0,418.5 C204.3,416.9 200.6,414.7 200.2,413.0 C199.8,411.3 200.2,409.5 201.5,408.5 C202.8,407.5 205.9,406.8 208.0,407.0 C210.1,407.2 212.6,411.0 214.0,410.0 C215.4,409.0 215.5,404.2 216.5,401.0 C217.5,397.8 218.9,393.1 220.0,391.0 Z" fill="#dcf622" stroke="#b4ee1a" stroke-width="1.2"/>
      <path d="M204.0,409.0 C205.2,408.5 208.5,409.2 210.0,410.0 C211.5,410.8 212.6,411.2 212.8,413.5 C213.0,415.8 211.9,421.4 211.2,424.0 C210.5,426.6 210.0,427.9 208.5,428.8 C207.0,429.7 203.7,429.7 202.0,429.2 C200.3,428.7 198.7,427.2 198.5,426.0 C198.3,424.8 199.7,423.2 201.0,422.0 C202.3,420.8 206.2,420.0 206.5,418.5 C206.8,417.0 203.2,414.6 202.8,413.0 C202.4,411.4 202.8,409.5 204.0,409.0 Z" fill="#6b6a8e"/>
      <path d="M218.5,403.8 L240.5,410.5" stroke="#141414" stroke-width="3.6" fill="none"/>
      <path d="M215.8,411.8 L223.8,414.0" stroke="#141414" stroke-width="2.4" fill="none"/>
      <path d="M232.8,416.8 L239.5,418.5" stroke="#141414" stroke-width="2.4" fill="none"/>
      <path d="M212.2,423.5 L220.8,425.8" stroke="#141414" stroke-width="2.6" fill="none"/>
      <path d="M230.8,428.0 L239.5,431.5" stroke="#141414" stroke-width="3.4" fill="none"/>
      <path d="M208.8,436.0 L236.8,444.0" stroke="#141414" stroke-width="4.2" fill="none"/>
      <path d="M225.5,393.0 L224.6,397.8" stroke="#141414" stroke-width="1.8" fill="none"/>
      <path d="M235.8,396.0 L235.0,401.0" stroke="#141414" stroke-width="1.8" fill="none"/>
      <ellipse cx="225.5" cy="392.5" rx="3" ry="2.2" fill="#141414"/><ellipse cx="235.7" cy="395.7" rx="3" ry="2.2" fill="#141414"/>
    </g>
    <!-- fox sticker -->
    <g id="fox">
      <path d="M300.0,378.0 C301.5,376.6 301.5,373.7 303.0,373.8 C304.5,373.9 307.5,378.0 309.0,378.5 C310.5,379.0 310.9,378.1 312.0,377.0 C313.1,375.9 314.2,372.2 315.5,372.0 C316.8,371.8 318.2,375.2 320.0,376.0 C321.8,376.8 324.7,375.5 326.0,377.0 C327.3,378.5 328.1,382.5 327.8,385.0 C327.5,387.5 324.2,389.7 324.2,392.0 C324.2,394.3 327.7,397.0 328.0,399.0 C328.3,401.0 328.7,402.6 326.0,404.0 C323.3,405.4 314.6,406.2 312.0,407.2 C309.4,408.2 310.2,407.2 310.2,410.0 C310.2,412.8 312.2,420.8 312.0,424.0 C311.8,427.2 310.7,428.0 309.0,429.0 C307.3,430.0 303.7,430.5 302.0,430.0 C300.3,429.5 299.9,428.0 299.0,426.0 C298.1,424.0 298.6,420.0 296.8,418.0 C295.0,416.0 290.8,415.6 288.0,414.0 C285.2,412.4 281.4,410.2 280.0,408.2 C278.6,406.2 279.0,403.9 279.5,402.0 C280.0,400.1 281.7,396.6 283.0,396.5 C284.3,396.4 285.5,399.8 287.2,401.2 C288.9,402.6 291.9,404.9 293.2,405.0 C294.5,405.1 295.1,404.8 295.0,402.0 C294.9,399.2 292.7,391.3 292.6,388.0 C292.5,384.7 293.0,383.7 294.2,382.0 C295.4,380.3 298.5,379.4 300.0,378.0 Z" fill="#f58a14"/>
      <path d="M280.0,402.0 C280.3,400.4 282.2,397.1 283.3,397.0 C284.4,396.9 286.5,400.0 286.8,401.5 C287.1,403.0 286.1,405.0 285.2,405.8 C284.3,406.6 282.4,407.1 281.5,406.5 C280.6,405.9 279.7,403.6 280.0,402.0 Z" fill="#fdf6ee"/>
      <circle cx="309.5" cy="385.8" r="3.9" fill="#ffffff"/><circle cx="309.9" cy="386" r="1.7" fill="#111"/>
      <circle cx="319.5" cy="383.6" r="3.7" fill="#ffffff"/><circle cx="319.8" cy="383.9" r="1.7" fill="#111"/>
      <path d="M313,386 L317.2,385.4 L315.3,389.6 Z" fill="#2a1a10"/>
          <path d="M305,392 C303.6,402 302,412 300.4,422" stroke="#e07a0c" stroke-width="0.9" fill="none"/>
      <path d="M309,394 C313,398 320,400 325.6,399.6" stroke="#e07a0c" stroke-width="0.9" fill="none"/>
      <path d="M311.4,407.4 C311,414 311.8,420 312.4,425" stroke="#e07a0c" stroke-width="0.8" fill="none"/>
    </g>
    <!-- kangaroo sticker -->
    <g id="kangaroo">
      <path d="M380.0,386.0 C381.0,385.6 383.0,386.3 384.5,386.8 C386.0,387.3 388.5,387.6 389.2,389.0 C389.9,390.4 387.6,393.3 388.6,395.0 C389.6,396.7 393.3,397.7 395.0,399.0 C396.7,400.3 398.4,402.0 399.0,403.0 C399.6,404.0 396.7,404.7 398.5,405.2 C400.3,405.7 407.6,405.4 410.0,406.2 C412.4,407.0 412.8,408.4 412.6,410.0 C412.4,411.6 410.8,414.0 409.0,416.0 C407.2,418.0 402.8,419.7 402.0,422.0 C401.2,424.3 403.8,427.7 404.0,430.0 C404.2,432.3 402.2,433.8 403.2,436.0 C404.2,438.2 409.2,441.0 410.0,443.0 C410.8,445.0 409.2,446.9 408.2,448.0 C407.2,449.1 408.4,449.7 404.0,449.5 C399.6,449.3 389.3,448.1 382.0,447.0 C374.7,445.9 364.2,444.2 360.0,443.0 C355.8,441.8 356.6,441.0 356.5,440.0 C356.4,439.0 356.1,438.0 359.2,437.0 C362.3,436.0 371.9,436.7 375.0,434.0 C378.1,431.3 376.8,425.3 377.5,421.0 C378.2,416.7 379.1,411.0 379.0,408.0 C378.9,405.0 377.0,405.0 377.0,403.0 C377.0,401.0 378.8,398.3 379.0,396.0 C379.2,393.7 378.2,390.7 378.4,389.0 C378.6,387.3 379.0,386.4 380.0,386.0 Z" fill="#cfa14e"/>
      <ellipse cx="395" cy="429.6" rx="8.2" ry="6.6" fill="#dcc232" transform="rotate(-12 395 429.6)"/>
      <circle cx="394.6" cy="420.6" r="3.4" fill="#d9ae58"/><circle cx="393.4" cy="420.2" r="0.6" fill="#3a2a12"/><circle cx="395.8" cy="420.2" r="0.6" fill="#3a2a12"/>
      <circle cx="386.6" cy="399.8" r="3" fill="#f4ead2"/><circle cx="387" cy="399.3" r="1.7" fill="#1a120a"/>
      <circle cx="395.8" cy="403" r="1.2" fill="#4a2a12"/>
      <ellipse cx="381.2" cy="393" rx="1.3" ry="3" fill="#e2a98c"/>
    <path d="M391,410 C395,413 399,417 402.4,421.6" stroke="#b98b3c" stroke-width="0.9" fill="none"/>
      <path d="M379,436 C384,437 388,440 390,445" stroke="#b98b3c" stroke-width="0.9" fill="none"/>
    </g>
    <!-- tree sticker -->
    <g id="tree">
      <path d="M190.0,458.5 C192.9,457.9 195.3,457.2 199.0,460.0 C202.7,462.8 207.5,470.3 212.0,475.5 C216.5,480.7 223.2,487.4 226.0,491.0 C228.8,494.6 228.4,495.2 228.6,497.0 C228.8,498.8 228.3,500.8 227.0,502.0 C225.7,503.2 222.8,504.3 221.0,504.0 C219.2,503.7 217.5,501.6 216.0,500.0 C214.5,498.4 214.7,494.8 212.0,494.5 C209.3,494.2 202.8,496.9 200.0,498.0 C197.2,499.1 196.0,498.5 195.0,501.2 C194.0,503.9 195.0,511.4 194.2,514.0 C193.4,516.6 191.7,516.6 190.0,517.0 C188.3,517.4 185.4,517.2 184.0,516.5 C182.6,515.8 182.1,516.1 181.4,513.0 C180.7,509.9 180.3,503.0 180.0,498.0 C179.7,493.0 179.2,488.8 179.5,483.0 C179.8,477.2 180.1,467.6 181.8,463.5 C183.6,459.4 187.1,459.1 190.0,458.5 Z" fill="#1ad23a"/>
      <rect x="184.2" y="502.5" width="8.6" height="13" rx="2.6" fill="#a7685f"/>
      <rect x="-4" y="-6.2" width="8" height="12.4" rx="2.6" fill="#a7685f" transform="translate(218.8 496) rotate(-38)"/>
      <g fill="#96f044"><circle cx="191.5" cy="465.6" r="4"/><circle cx="191" cy="487.2" r="4"/><circle cx="208" cy="488.2" r="4"/></g>
      <g fill="#f22c4a"><circle cx="185.6" cy="477" r="3.7"/><ellipse cx="204.5" cy="475.2" rx="4.1" ry="3.3"/><circle cx="185.5" cy="496" r="3.5"/></g>
    </g>
    <!-- music sticker -->
    <g id="music">
      <path d="M220.0,518.5 C221.8,517.9 224.3,518.4 226.0,519.5 C227.7,520.6 228.7,522.8 230.0,525.0 C231.3,527.2 231.3,528.8 234.0,533.0 C236.7,537.2 243.8,544.8 246.0,550.0 C248.2,555.2 248.2,560.5 247.2,564.0 C246.2,567.5 242.2,570.2 240.0,571.2 C237.8,572.2 238.3,571.4 234.0,570.0 C229.7,568.6 220.8,565.5 214.0,563.0 C207.2,560.5 196.9,557.4 193.0,555.2 C189.1,553.0 190.2,551.7 190.5,550.0 C190.8,548.3 192.6,547.7 195.0,545.0 C197.4,542.3 201.7,537.7 205.0,534.0 C208.3,530.3 212.5,525.6 215.0,523.0 C217.5,520.4 218.2,519.1 220.0,518.5 Z" fill="#12e283"/>
      <path d="M215.5,527.0 C215.2,524.2 214.8,522.4 216.5,521.2 C218.2,520.0 223.8,519.2 226.0,519.7 C228.2,520.2 228.3,521.1 230.0,524.5 C231.7,527.9 233.6,534.1 236.0,540.0 C238.4,545.9 243.5,555.2 244.5,560.0 C245.5,564.8 243.4,567.3 242.0,569.0 C240.6,570.7 240.5,571.0 236.0,570.0 C231.5,569.0 221.8,565.3 215.0,563.0 C208.2,560.7 198.9,558.2 195.0,556.0 C191.1,553.8 191.4,552.0 191.7,550.0 C192.0,548.0 194.8,545.2 197.0,544.2 C199.2,543.2 200.9,542.8 205.2,543.8 C209.5,544.8 220.8,551.0 223.0,550.0 C225.2,549.0 219.8,541.8 218.5,538.0 C217.2,534.2 215.8,529.8 215.5,527.0 Z" fill="none" stroke="#0b1a10" stroke-width="1.1"/>
      <path d="M192.0,548.8 L222.0,557.8" stroke="#0b1a10" stroke-width="1.1"/>
      <path d="M192.5,547.2 L222.5,556.2" stroke="#0b1a10" stroke-width="1.1"/>
      <path d="M193.0,545.6 L223.0,554.6" stroke="#0b1a10" stroke-width="1.1"/>
      <ellipse cx="232" cy="542" rx="7.2" ry="6.6" fill="#f9b220" transform="rotate(25 232 542)"/>
      <ellipse cx="236.4" cy="552.6" rx="9" ry="8.6" fill="#f9b220" transform="rotate(25 236.4 552.6)"/>
      <path d="M222,527.4 L224.6,525.6 L231,536 L228.4,537.6 Z" fill="#12e283" stroke="#0b1a10" stroke-width="1"/>
      <path d="M226,530 L238.2,557.5" stroke="#2fdc86" stroke-width="1.6"/>
      <path d="M231.6,550 q-2,1 0,2 q2,1 0,2.2" stroke="#4a1e10" stroke-width="1.1" fill="none"/>
      <path d="M238,546.4 q2.4,-1.2 2,1 q-0.6,2 -2,2.4 l3,0.2" stroke="#4a1e10" stroke-width="1.1" fill="none"/>
    </g>
    <!-- umbrella sticker -->
    <g id="umbrella">
      <path d="M412.0,457.5 C413.8,455.9 414.7,455.2 416.0,455.4 C417.3,455.6 419.5,457.5 420.0,458.8 C420.5,460.1 417.5,461.5 419.2,463.0 C420.9,464.5 426.4,466.2 430.0,468.0 C433.6,469.8 438.5,472.6 441.0,474.0 C443.5,475.4 443.7,476.6 445.0,476.7 C446.3,476.8 447.6,474.4 449.0,474.5 C450.4,474.6 452.7,475.9 453.2,477.0 C453.7,478.1 453.0,479.9 452.0,481.2 C451.0,482.5 448.2,483.2 447.0,485.0 C445.8,486.8 446.3,489.3 445.0,492.0 C443.7,494.7 441.7,498.0 439.0,501.0 C436.3,504.0 433.0,508.1 429.0,510.0 C425.0,511.9 419.7,512.7 415.0,512.2 C410.3,511.7 404.6,509.7 401.0,507.0 C397.4,504.3 394.9,499.5 393.5,496.0 C392.1,492.5 392.2,489.3 392.8,486.0 C393.4,482.7 395.0,479.5 397.0,476.0 C399.0,472.5 402.5,468.1 405.0,465.0 C407.5,461.9 410.2,459.1 412.0,457.5 Z" fill="#22e2f0"/>
      <path d="M413.2,459.6 a2.6,2.6 0 1 1 5.2,0.4" stroke="#1f8ff0" stroke-width="1.5" fill="none"/>
      <path d="M446,476 a2.8,2.8 0 1 1 4.6,3.4" stroke="#1f8ff0" stroke-width="1.5" fill="none"/>
      <path d="M405.6,465.2 L408,464.6 L407.6,481 L405.8,480 Z" fill="#fbe4ee"/>
      <path d="M408,464.6 L413,463.4 L409,481.4 L407.6,481 Z" fill="#e4629e"/>
      <path d="M413,463.4 L415.2,463 L418,468 L409,481.4 Z" fill="#a873e6"/>
      <path d="M407,464.4 L412.4,460.6 L416.4,463.6 Z" fill="#f4fbff"/>
      <path d="M419,497 L433,476.4 L437.4,478.6 Z" fill="#63e23e"/>
      <path d="M419,497 L437.4,478.6 L440.6,481.4 Z" fill="#2463d4"/>
      <path d="M419.6,498 L440.6,481.4 L443.6,485.6 Z" fill="#f4e622"/>
      <path d="M420.4,499.4 L443.6,485.6 L446.4,490.6 Z" fill="#f2343e"/>
      <path d="M436.6,476 L441,475.4 L444,478.6 L441.2,482 Z" fill="#f4fbff"/>
      <g fill="#e9fdff"><ellipse cx="401.4" cy="478" rx="1" ry="1.9" transform="rotate(20 401.4 478)"/><ellipse cx="398.4" cy="489" rx="1" ry="1.9" transform="rotate(20 398.4 489)"/><ellipse cx="400" cy="496" rx="1" ry="1.9" transform="rotate(20 400 496)"/><ellipse cx="408.4" cy="498" rx="1" ry="1.9" transform="rotate(20 408.4 498)"/><ellipse cx="411.4" cy="505.4" rx="1" ry="1.9" transform="rotate(20 411.4 505.4)"/><ellipse cx="428" cy="504" rx="1" ry="1.9" transform="rotate(20 428 504)"/></g>
    </g>
    <!-- elephant sticker -->
    <g id="elephant">
      <path d="M393.0,517.5 C396.8,517.4 401.5,519.2 406.0,520.5 C410.5,521.8 417.0,523.4 420.0,525.0 C423.0,526.6 423.8,528.0 424.2,530.0 C424.6,532.0 423.1,535.5 422.2,537.0 C421.3,538.5 421.9,538.8 419.0,538.7 C416.1,538.6 407.5,536.0 405.0,536.2 C402.5,536.4 402.0,538.7 403.8,540.0 C405.6,541.3 413.3,542.3 416.0,544.0 C418.7,545.7 419.8,548.0 420.2,550.0 C420.6,552.0 419.5,554.5 418.6,556.0 C417.7,557.5 418.1,559.2 415.0,559.2 C411.9,559.2 402.8,556.1 400.0,556.2 C397.2,556.3 396.4,558.4 398.4,560.0 C400.4,561.6 409.3,564.2 412.0,566.0 C414.7,567.8 414.4,569.0 414.6,571.0 C414.8,573.0 414.1,576.6 413.0,578.0 C411.9,579.4 411.0,579.5 408.0,579.2 C405.0,578.9 399.2,577.1 395.0,576.0 C390.8,574.9 386.2,572.9 383.0,572.6 C379.8,572.3 378.2,573.8 376.0,574.2 C373.8,574.6 371.3,575.9 370.0,575.2 C368.7,574.5 368.1,571.4 368.4,570.0 C368.7,568.6 370.2,567.3 372.0,567.0 C373.8,566.7 377.4,570.0 379.0,568.0 C380.6,566.0 380.7,559.2 381.5,555.0 C382.3,550.8 384.4,546.2 383.8,543.0 C383.2,539.8 379.1,538.5 378.0,536.0 C376.9,533.5 376.7,530.5 377.5,528.0 C378.3,525.5 380.4,522.8 383.0,521.0 C385.6,519.2 389.2,517.6 393.0,517.5 Z" fill="#97f7df"/>
      <circle cx="386.4" cy="531.4" r="9.3" fill="#a6f9e6"/>
      <path d="M384,531 C384,526.6 388.4,524.6 392,525.2 C393.6,529.4 392.6,535 388.4,536.4 C385.6,536.8 384,534.4 384,531 Z" fill="#ff84c6"/>
      <circle cx="403.5" cy="527.2" r="2.2" fill="#0c100e"/>
    <path d="M417.4,525.6 q1.6,0.6 2.2,2.4" stroke="#7fe3cb" stroke-width="0.8" fill="none"/>
      <path d="M414.4,549 q1.6,1.4 1,3.6" stroke="#7fe3cb" stroke-width="0.8" fill="none"/>
      <path d="M409.4,569 q1.4,2 0.4,4.4" stroke="#7fe3cb" stroke-width="0.8" fill="none"/>
    </g>
    <!-- STICKERS END -->
  </g>

  <!-- ===================== CALLOUTS ===================== -->
  <g id="callouts">
    <rect x="446.8" y="13.3" width="297.6" height="43" rx="5.5" fill="#ffffff" stroke="#1a1a1a" stroke-width="1.5"/>
    <text x="454.6" y="43.2" style="font-size:27.1px">EVA Shockproof Case</text>

    <text x="57.6" y="78.2" style="font-size:13.13px">Connecting Shoulder Strap</text>
    <path class="ln" stroke-width="1.2" d="M134.5,87.5 L134.5,151.2 L216.5,151.2"/>

    <text x="595.9" y="147.1" style="font-size:14.15px">Kids Friendly Handle</text>
    <path class="ln" stroke-width="1.3" d="M510,142.1 L593,142.1"/>

    <text x="609.8" y="384.2" style="font-size:12.3px">Rear Facing Camera</text>
    <path class="ln" stroke-width="1.4" d="M483.5,380 L606,380"/>

    <text x="577.2" y="519.3" style="font-size:11.6px; fill:#e20f18">iPad 10.9</text>
    <path class="ln" stroke-width="1.3" d="M498.7,515.2 L562,515.2"/>

    <text x="596.9" y="557.5" style="font-size:14.2px">Play Music</text>
    <path class="ln" stroke-width="2.1" d="M493,552.3 L591.6,552.3"/>

    <text x="611.4" y="643.1" style="font-size:16.75px">Light Waight &amp;</text>
    <text x="611.4" y="671.7" style="font-size:16.75px">Deop-proof Case</text>
    <path class="ln" stroke-width="1.4" d="M447,623.5 L447,651.2 L611.3,651.2"/>

    <text x="5.9" y="552.8" style="font-size:16.3px">Usa-C Port</text>
    <path class="ln" stroke-width="1.3" d="M66.2,528.8 L66.2,488.8 L105,488.8"/>

    <text x="1.2" y="670.6" style="font-size:18.65px">Faldable kickstand</text>
    <path class="ln" stroke-width="2" d="M166.5,664.7 L300,664.7 L300,596"/>
  </g>

  <!-- ===================== COLOUR SWATCHES ===================== -->
  <g id="swatches">
    <circle cx="152.2" cy="704.8" r="21.8" fill="#0b95f6"/>
    <circle cx="226.5" cy="704.8" r="21.8" fill="#2f3f80"/>
    <circle cx="300.7" cy="704.8" r="21.8" fill="#0adcbc"/>
    <circle cx="375" cy="704.8" r="21.8" fill="#ffb0d6"/>
    <circle cx="449.2" cy="704.8" r="21.8" fill="#c0b3fa"/>
    <circle cx="522.8" cy="704.8" r="21.8" fill="#eeee08"/>
  </g>
</svg>
</body>
</html>
